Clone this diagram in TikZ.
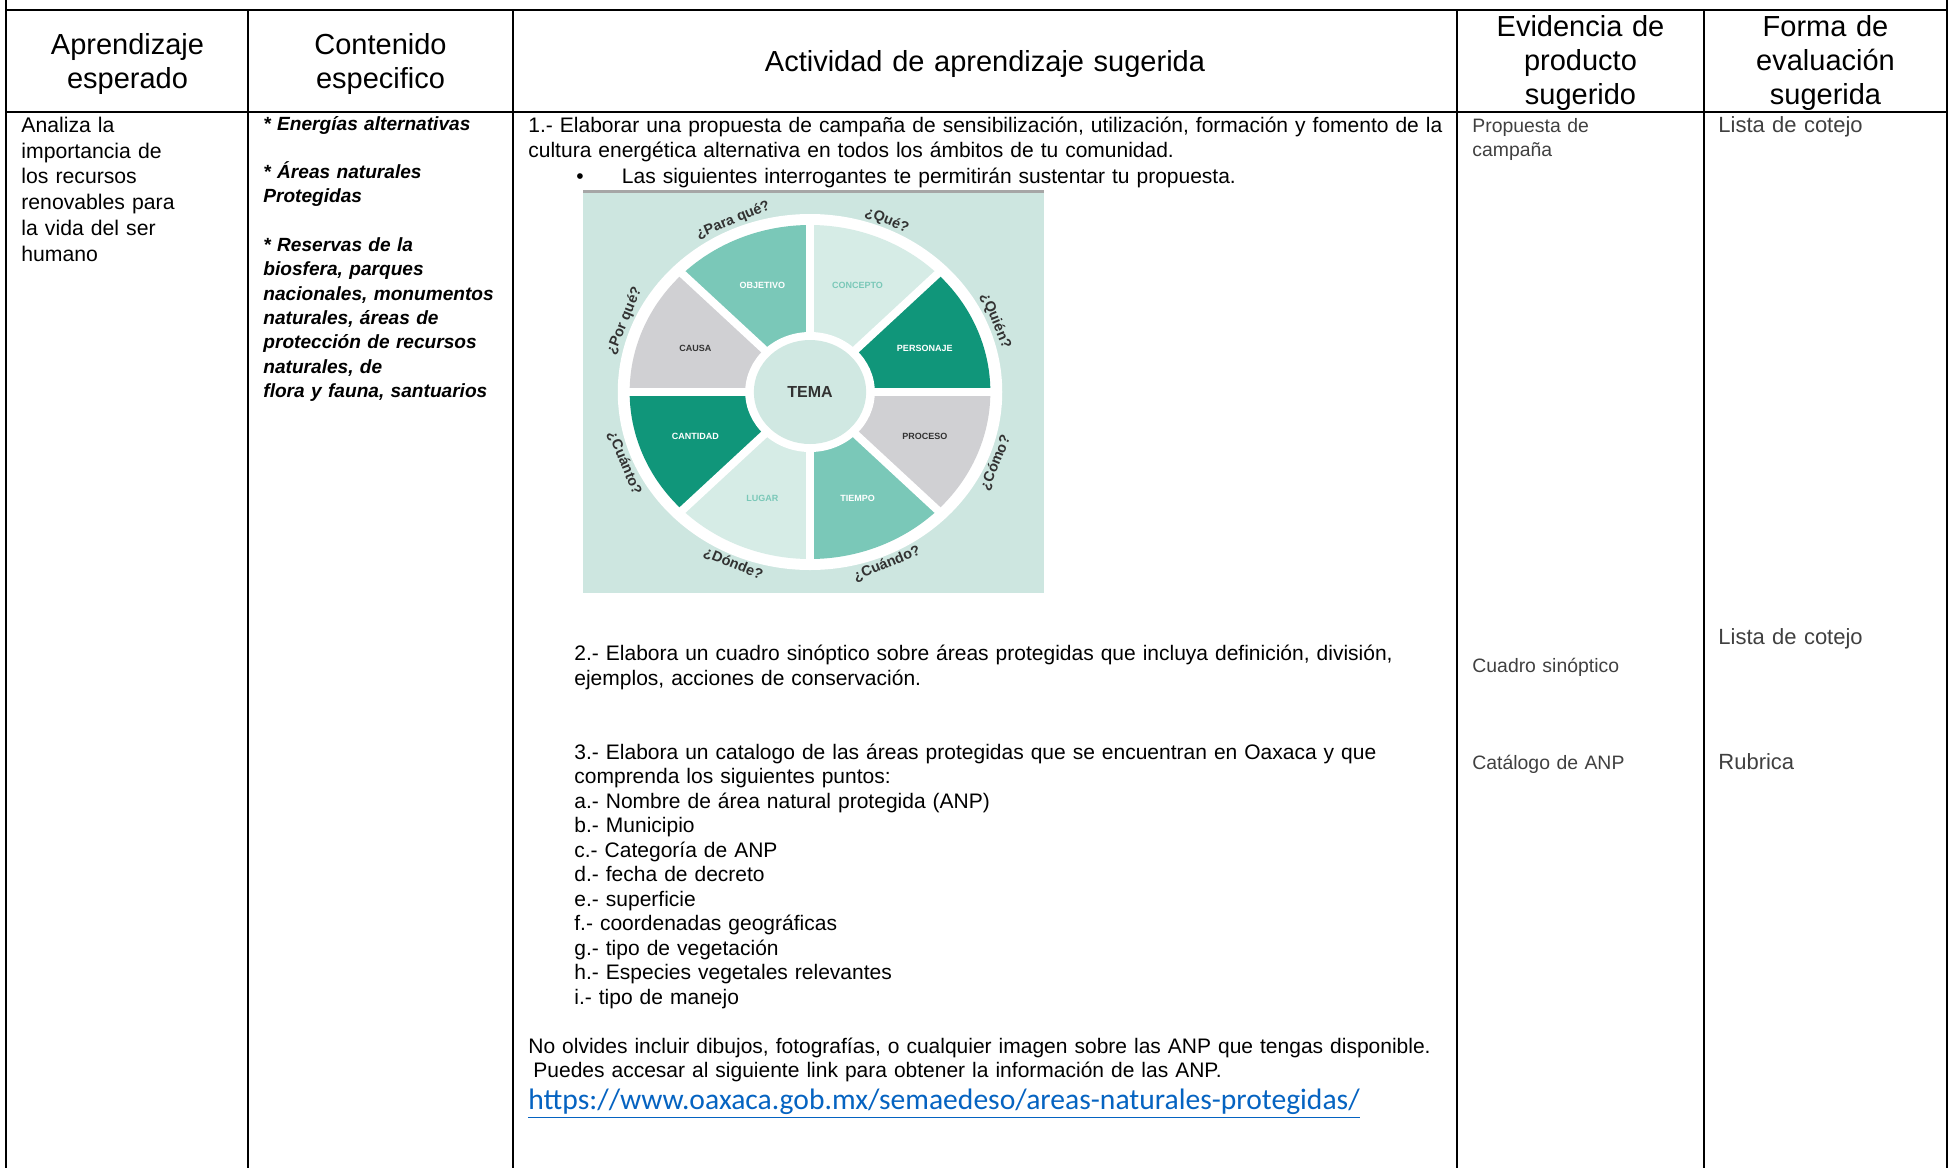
\documentclass[tikz,border=0pt]{standalone}
\usepackage{fontspec}
\setmainfont{Liberation Sans}
\newfontfamily\linkfont{Carlito}
\usepackage{tikz}

\definecolor{wheelbg}{RGB}{205,230,224}
\definecolor{dkteal}{RGB}{16,150,122}
\definecolor{midteal}{RGB}{122,200,184}
\definecolor{ltteal}{RGB}{214,236,230}
\definecolor{sectgray}{RGB}{208,208,211}
\definecolor{temafill}{RGB}{208,232,226}
\definecolor{qtext}{RGB}{50,50,50}
\definecolor{graytext}{RGB}{64,64,64}
\definecolor{linkblue}{RGB}{5,99,193}

\begin{document}
\begin{tikzpicture}[x=0.5pt,y=0.5pt,
  rule/.style={line width=1.1pt},
  head/.style={anchor=base,align=center,inner sep=0pt,font=\fontsize{14.5}{17}\selectfont},
  aprend/.style={anchor=base west,align=left,inner sep=0pt,text width=112pt,font=\fontsize{10.6}{12.85}\selectfont},
  conten/.style={anchor=base west,align=left,inner sep=0pt,text width=125pt,font=\fontsize{9.55}{12.15}\selectfont\bfseries\itshape},
  activ/.style={anchor=base west,align=left,inner sep=0pt,text width=465pt,font=\fontsize{10.5}{12.45}\selectfont},
  lista/.style={activ,font=\fontsize{10.5}{12.25}\selectfont},
  evid/.style={anchor=base west,align=left,inner sep=0pt,text width=110pt,text=graytext,font=\fontsize{9.7}{12.45}\selectfont},
  forma/.style={anchor=base west,align=left,inner sep=0pt,text width=110pt,text=graytext,font=\fontsize{11}{13}\selectfont},
  sectlbl/.style={inner sep=0pt,font=\bfseries\fontsize{4.5}{5}\selectfont},
  qlbl/.style={inner sep=0pt,text=qtext,font=\bfseries\fontsize{7.2}{8}\selectfont}]
\useasboundingbox (0,0) rectangle (1953,-1168);

\draw[rule] (6,0) -- (6,-1168);
\draw[rule] (1947,0) -- (1947,-1168);
\draw[rule] (6,-10) -- (1947,-10);
\draw[rule] (6,-112) -- (1947,-112);
\foreach \x in {248,513,1457,1704}
  \draw[rule] (\x,-10) -- (\x,-1168);

\node[head,text width=115pt] (hAprend) at (127.5,-54) {Aprendizaje\\esperado};
\node[head,text width=125pt] (hConten) at (380.5,-54) {Contenido\\especifico};
\node[head,text width=460pt] (hActiv) at (985,-71) {Actividad de aprendizaje sugerida};
\node[head,text width=120pt] (hEvid) at (1580.5,-36.5) {Evidencia de\\producto\\sugerido};
\node[head,text width=120pt] (hForma) at (1825.5,-36.5) {Forma de\\evaluación\\sugerida};

\node[aprend] (aprend) at (21,-132.5) {Analiza la\\importancia de\\los recursos\\renovables para\\la vida del ser\\humano};

\node[conten] (conten) at (263,-130) {* Energías alternativas\\~\\{}* Áreas naturales\\Protegidas\\~\\{}* Reservas de la\\biosfera, parques\\nacionales, monumentos\\naturales, áreas de\\protección de recursos\\naturales, de\\flora y fauna, santuarios};

\node[activ] (act1) at (528,-132.3) {1.- Elaborar una propuesta de campaña de sensibilización, utilización, formación y fomento de la\\cultura energética alternativa en todos los ámbitos de tu comunidad.};
\node[inner sep=0pt,anchor=base,font=\fontsize{10.5}{12}\selectfont] (bullet) at (580,-183.4) {\textbullet};
\node[activ] (act1b) at (621.5,-183.4) {Las siguientes interrogantes te permitirán sustentar tu propuesta.};

\fill[wheelbg] (583,-191) rectangle (1044,-593);
\draw[gray!70,line width=1.5pt] (583,-191) -- (1044,-191);
\begin{scope}[shift={(810,-392)},xscale=1.08]
  \fill[white] (0,0) circle (178);
  \foreach \a/\col in {0/dkteal,45/ltteal,90/midteal,135/sectgray,180/dkteal,225/ltteal,270/midteal,315/sectgray}
    \fill[\col] (0,0) -- (\a:167) arc[start angle=\a,delta angle=45,radius=167] -- cycle;
  \foreach \a in {0,45,...,315}
    \draw[white,line width=4pt] (0,0) -- (\a:172);
  \fill[white] (0,0) circle (60);
  \fill[temafill] (0,0) circle (52);
  \node[text=qtext,inner sep=0pt,font=\bfseries\fontsize{8}{9}\selectfont] (tema) at (0,0) {TEMA};
  \foreach \a/\t/\tc [count=\i] in {22.5/PERSONAJE/white,67.5/CONCEPTO/midteal,112.5/OBJETIVO/white,157.5/CAUSA/qtext,202.5/CANTIDAD/white,247.5/LUGAR/midteal,292.5/TIEMPO/white,337.5/PROCESO/qtext}
    \node[sectlbl,text=\tc] (sec\i) at (\a:115) {\t};
  \foreach \a/\q [count=\i] in {22.5/{¿Quién?},67.5/{¿Qué?},112.5/{¿Para qué?},157.5/{¿Por qué?}}
    \node[qlbl,rotate=\a-90] (q\i) at (\a:186) {\q};
  \foreach \a/\q [count=\i from 5] in {202.5/{¿Cuánto?},247.5/{¿Dónde?},292.5/{¿Cuándo?},337.5/{¿Cómo?}}
    \node[qlbl,rotate=\a+90] (q\i) at (\a:186) {\q};
\end{scope}

\node[activ] (act2) at (574,-660.5) {2.- Elabora un cuadro sinóptico sobre áreas protegidas que incluya definición, división,\\ejemplos, acciones de conservación.};
\node[lista] (act3) at (574,-759) {3.- Elabora un catalogo de las áreas protegidas que se encuentran en Oaxaca y que\\comprenda los siguientes puntos:\\a.- Nombre de área natural protegida (ANP)\\b.- Municipio\\c.- Categoría de ANP\\d.- fecha de decreto\\e.- superficie\\f.- coordenadas geográficas\\g.- tipo de vegetación\\h.- Especies vegetales relevantes\\i.- tipo de manejo};
\node[activ] (nota) at (528,-1053) {No olvides incluir dibujos, fotografías, o cualquier imagen sobre las ANP que tengas disponible.\\\hspace*{2.5pt}Puedes accesar al siguiente link para obtener la información de las ANP.};
\node[anchor=base west,inner sep=0pt,text=linkblue,font=\linkfont\fontsize{14.8}{16}\selectfont] (link) at (528,-1109) {\underline{https://www.oaxaca.gob.mx/semaedeso/areas-naturales-protegidas/}};

\node[evid] (ev1) at (1472,-132) {Propuesta de\\campaña};
\node[evid] (ev2) at (1472,-672) {Cuadro sinóptico};
\node[evid] (ev3) at (1472,-769) {Catálogo de ANP};

\node[forma] (fo1) at (1718,-132.5) {Lista de cotejo};
\node[forma] (fo2) at (1718,-644.5) {Lista de cotejo};
\node[forma] (fo3) at (1718,-769.5) {Rubrica};
\end{tikzpicture}
\end{document}
